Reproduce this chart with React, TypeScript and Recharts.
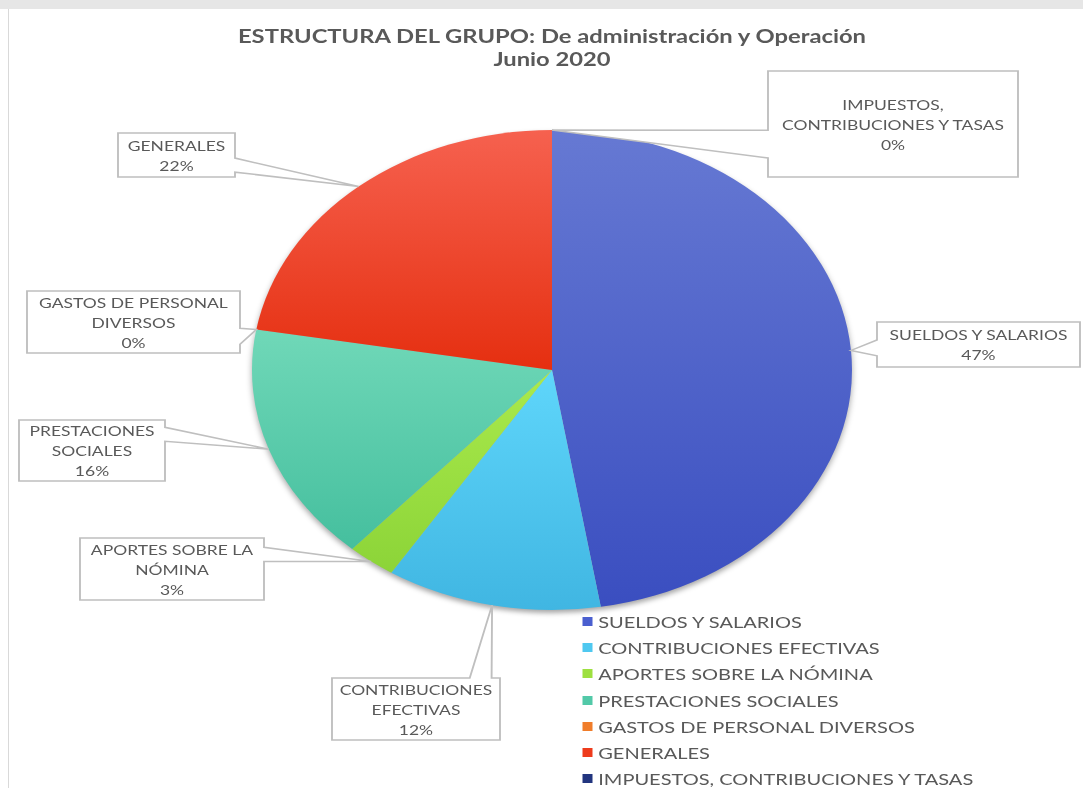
import React from "react";
import { PieChart, Pie, Cell, Legend } from "recharts";

const categories = [
  "SUELDOS Y SALARIOS",
  "CONTRIBUCIONES EFECTIVAS",
  "APORTES SOBRE LA NÓMINA",
  "PRESTACIONES SOCIALES",
  "GASTOS DE PERSONAL DIVERSOS",
  "GENERALES",
  "IMPUESTOS, CONTRIBUCIONES Y TASAS",
];
const values = [47.4, 11.6, 2.6, 16.1, 0, 22.3, 0];

// wrapped text of each data callout
const labelLines = [
  ["SUELDOS Y SALARIOS"],
  ["CONTRIBUCIONES", "EFECTIVAS"],
  ["APORTES SOBRE LA", "NÓMINA"],
  ["PRESTACIONES", "SOCIALES"],
  ["GASTOS DE PERSONAL", "DIVERSOS"],
  ["GENERALES"],
  ["IMPUESTOS,", "CONTRIBUCIONES Y TASAS"],
];

const colorTop = ["#6679d3", "#5fd6fb", "#aaea4c", "#70d8b8", "#f6892e", "#f6614f", "#2b4296"];
const colorBottom = ["#3a4ec0", "#40b6e2", "#8cd438", "#45bf9e", "#e86e18", "#e52f10", "#1d2f77"];
const legendColors = ["#4a5fcf", "#4fc8f0", "#9ee040", "#52c9a8", "#f07d2a", "#ee3b1c", "#22357f"];

// callout boxes (unscaled chart coords): x, y, w, h, pointer side, pointer base fractions
const callouts = [
  { x: 701.6, y: 322, w: 162.4, h: 45, side: "left", f1: 0.4, f2: 0.75 },
  { x: 265.6, y: 678, w: 134.4, h: 62, side: "top", f1: 0.82, f2: 0.95 },
  { x: 64, y: 538, w: 147.2, h: 62, side: "right", f1: 0.15, f2: 0.38 },
  { x: 15.2, y: 420, w: 116.8, h: 61, side: "right", f1: 0.12, f2: 0.35 },
  { x: 21.6, y: 291, w: 170.4, h: 62, side: "right", f1: 0.6, f2: 0.86 },
  { x: 94.4, y: 133, w: 93.6, h: 44, side: "right", f1: 0.57, f2: 0.89 },
  { x: 614.4, y: 71, w: 200, h: 106, side: "left", f1: 0.56, f2: 0.82 },
];

const SCALE_X = 1.25;
const W = 1083 / SCALE_X;
const H = 788;
const CX = 441.6;
const CY = 370;
const R = 240;

const data = categories.map((name, i) => ({ name, value: values[i] }));
const total = values.reduce((a, b) => a + b, 0);

const renderCallout = (props: any) => {
  const { cx, cy, midAngle, outerRadius, index } = props;
  const RAD = Math.PI / 180;
  const ax = cx + outerRadius * Math.cos(-midAngle * RAD);
  const ay = cy + outerRadius * Math.sin(-midAngle * RAD);
  const b = callouts[index];
  const { x, y, w, h, f1, f2 } = b;
  let d = "";
  if (b.side === "left") {
    d = `M${x},${y} H${x + w} V${y + h} H${x} V${y + h * f2} L${ax},${ay} L${x},${y + h * f1} Z`;
  } else if (b.side === "right") {
    d = `M${x},${y} H${x + w} V${y + h * f1} L${ax},${ay} L${x + w},${y + h * f2} V${y + h} H${x} Z`;
  } else {
    d = `M${x},${y} H${x + w * f1} L${ax},${ay} L${x + w * f2},${y} H${x + w} V${y + h} H${x} Z`;
  }
  const pct = Math.round((values[index] / total) * 100) + "%";
  const lines = [...labelLines[index], pct];
  const lh = 20;
  const y0 = y + h / 2 - ((lines.length - 1) * lh) / 2;
  return (
    <g key={`callout-${index}`}>
      <path d={d} fill="#ffffff" stroke="#bfbfbf" strokeWidth={1.5} />
      {lines.map((t, i) => (
        <text
          key={i}
          x={x + w / 2}
          y={y0 + i * lh}
          textAnchor="middle"
          dominantBaseline="central"
          fontSize={14}
          fill="#595959"
          fontFamily="Lato, 'Open Sans', sans-serif"
        >
          {t}
        </text>
      ))}
    </g>
  );
};

const renderLegend = () => (
  <div style={{ fontFamily: "Lato, 'Open Sans', sans-serif", fontSize: 16, color: "#595959" }}>
    {categories.map((name, i) => (
      <div key={i} style={{ height: 26.3, display: "flex", alignItems: "center", whiteSpace: "nowrap" }}>
        <span
          style={{
            display: "inline-block",
            width: 7.2,
            height: 9,
            background: legendColors[i],
            marginRight: 5,
          }}
        />
        {name}
      </div>
    ))}
  </div>
);

const css = `
.recharts-pie > .recharts-layer:not(.recharts-pie-labels) {
  filter: drop-shadow(0px 3px 2.5px rgba(0,0,0,0.35));
}
`;

export default function App() {
  return (
    <div style={{ position: "absolute", left: 0, top: 0, width: 1083, height: 788, background: "#ffffff", overflow: "hidden" }}>
      <style>{css}</style>
      <div style={{ position: "absolute", left: 0, top: 0, width: 1083, height: 9, background: "#e6e6e6" }} />
      <div style={{ position: "absolute", left: 8, top: 9, width: 1, height: 779, background: "#d9d9d9" }} />
      <div
        style={{
          position: "absolute",
          left: 0,
          top: 0,
          width: W,
          height: H,
          transform: `scaleX(${SCALE_X})`,
          transformOrigin: "0 0",
        }}
      >
        <div
          style={{
            position: "absolute",
            left: 0,
            top: 23.5,
            width: CX * 2,
            textAlign: "center",
            fontFamily: "Lato, 'Open Sans', sans-serif",
            fontWeight: 700,
            fontSize: 19,
            lineHeight: "23px",
            color: "#595959",
          }}
        >
          ESTRUCTURA DEL GRUPO: De administración y Operación
          <br />
          Junio 2020
        </div>
        <PieChart width={W} height={H} margin={{ top: 0, right: 0, bottom: 0, left: 0 }}>
          <defs>
            {colorTop.map((c, i) => (
              <linearGradient key={i} id={`grad${i}`} x1="0" y1="0" x2="0" y2="1">
                <stop offset="0%" stopColor={c} />
                <stop offset="100%" stopColor={colorBottom[i]} />
              </linearGradient>
            ))}
          </defs>
          <Pie
            data={data}
            dataKey="value"
            nameKey="name"
            cx={CX}
            cy={CY}
            outerRadius={R}
            startAngle={90}
            endAngle={-270}
            stroke="none"
            label={renderCallout}
            labelLine={false}
            isAnimationActive={false}
          >
            {data.map((_, i) => (
              <Cell key={i} fill={`url(#grad${i})`} />
            ))}
          </Pie>
          <Legend
            layout="vertical"
            content={renderLegend}
            wrapperStyle={{ position: "absolute", left: 466.4, top: 608, width: 400 }}
          />
        </PieChart>
      </div>
    </div>
  );
}
